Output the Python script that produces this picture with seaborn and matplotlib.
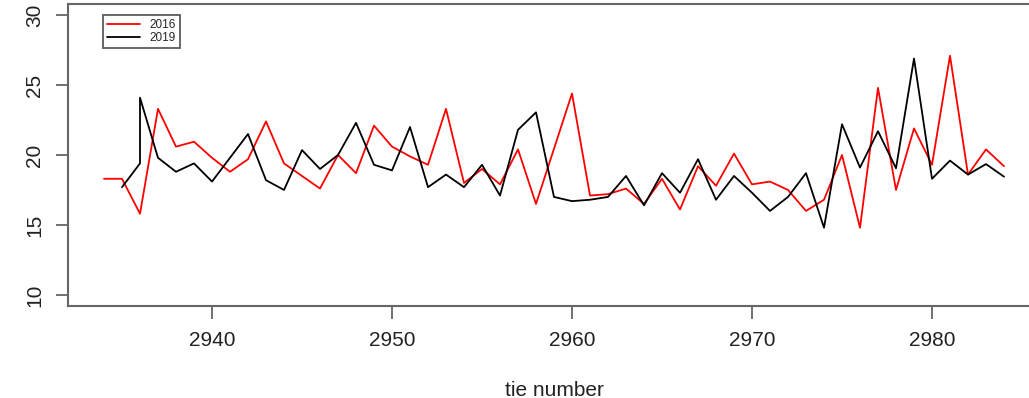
import matplotlib
matplotlib.use("Agg")
import matplotlib.pyplot as plt
import seaborn as sns
import pandas as pd
from matplotlib.lines import Line2D

# ---- data ----
x_2016 = list(range(2934, 2985))
y_2016 = [18.3, 18.3, 15.8, 23.3, 20.6, 20.95, 19.8, 18.8, 19.7, 22.4,
          19.4, 18.5, 17.6, 20.0, 18.7, 22.1, 20.6, 19.9, 19.3, 23.3,
          18.0, 19.0, 17.9, 20.4, 16.5, 20.45, 24.4, 17.1, 17.2, 17.6,
          16.5, 18.3, 16.1, 19.2, 17.8, 20.1, 17.9, 18.1, 17.5, 16.0,
          16.8, 20.0, 14.8, 24.8, 17.5, 21.9, 19.3, 27.1, 18.6, 20.4,
          19.2]

x_2019 = [2935, 2936, 2936] + list(range(2937, 2985))
y_2019 = [17.7, 19.4, 24.1, 19.8, 18.8, 19.4, 18.1, 19.8, 21.5, 18.2,
          17.5, 20.35, 19.0, 20.0, 22.3, 19.3, 18.9, 22.0, 17.7, 18.6,
          17.7, 19.3, 17.1, 21.8, 23.05, 17.0, 16.7, 16.8, 17.0, 18.5,
          16.4, 18.7, 17.3, 19.7, 16.8, 18.5, 17.3, 16.0, 17.0, 18.7,
          14.8, 22.2, 19.1, 21.7, 19.05, 26.9, 18.3, 19.6, 18.6, 19.35,
          18.45]

series_names = ["2016", "2019"]
series_colors = {"2016": "#ff0000", "2019": "#000000"}
x_ticks = [2940, 2950, 2960, 2970, 2980]
y_ticks = [10, 15, 20, 25, 30]

df = pd.concat([
    pd.DataFrame({"tie": x_2016, "val": y_2016, "year": "2016"}),
    pd.DataFrame({"tie": x_2019, "val": y_2019, "year": "2019"}),
], ignore_index=True)

sns.set_theme(style="white")
plt.rcParams['font.family'] = ['Liberation Sans', 'DejaVu Sans']

fig = plt.figure(figsize=(10.29, 3.98), dpi=100)
ax = fig.add_axes([68 / 1029, 92 / 398, 972 / 1029, 302 / 398])

sns.lineplot(data=df, x="tie", y="val", hue="year", hue_order=series_names,
             palette=series_colors, estimator=None, sort=False, units="year",
             linewidth=1.3, ax=ax, legend=False)

ax.set_xlim(2932, 2986)
ax.set_ylim(9.2, 30.8)
ax.set_xticks(x_ticks)
ax.set_yticks(y_ticks)
ax.set_xticklabels([str(t) for t in x_ticks], fontsize=15, color="#222222")
ax.set_yticklabels([str(t) for t in y_ticks], fontsize=15, color="#222222",
                   rotation=90, va="center")
ax.tick_params(axis="both", direction="out", length=9, width=1.3,
               color="#666666")
ax.tick_params(axis="x", pad=9)
ax.tick_params(axis="y", pad=8)
ax.tick_params(bottom=True, left=True)
for s in ax.spines.values():
    s.set_visible(True)
    s.set_color("#666666")
    s.set_linewidth(1.5)
ax.set_xlabel("tie number", fontsize=15, color="#222222", labelpad=22)
ax.set_ylabel("")

handles = [Line2D([0], [0], color=series_colors[n], lw=1.3) for n in series_names]
leg = ax.legend(handles, series_names, loc="upper left",
                bbox_to_anchor=(0.0363, 0.9626),
                fontsize=8.5, frameon=True, fancybox=False, handlelength=2.8,
                handletextpad=0.8, borderpad=0.35, labelspacing=0.05,
                borderaxespad=0)
leg.get_frame().set_edgecolor("#333333")
leg.get_frame().set_linewidth(1.3)

fig.savefig("out.png", dpi=100)
